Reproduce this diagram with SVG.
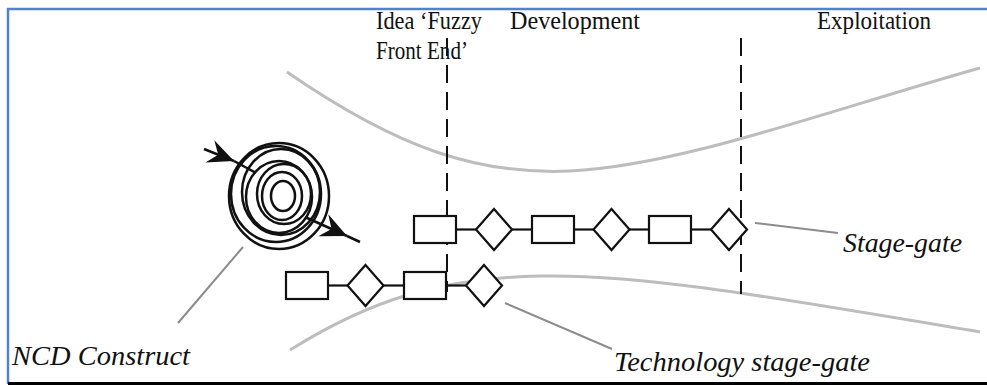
<svg xmlns="http://www.w3.org/2000/svg" width="987" height="385" viewBox="0 0 987 385">
<style>
.hdr{font-family:"Liberation Serif","Times New Roman",serif;font-size:25px;fill:#111}
.lbl{font-family:"Liberation Serif","Times New Roman",serif;font-size:28px;font-style:italic;fill:#111}
.band{fill:none;stroke:#bdbdbd;stroke-width:3}
.lead{fill:none;stroke:#8c8c8c;stroke-width:2}
.dash{stroke:#111;stroke-width:2;stroke-dasharray:18 9}
.sg{fill:#fff;stroke:#111;stroke-width:2.2}
.conn{stroke:#111;stroke-width:2.2}
.ring{fill:none;stroke:#111;stroke-width:2.5}
</style>
<defs>
<marker id="barb" markerUnits="userSpaceOnUse" markerWidth="30" markerHeight="26" refX="27" refY="13" orient="auto">
<path d="M27,13 L1,1 L10,13 L1,25 Z" fill="#111"/>
</marker>
</defs>
<rect x="0" y="0" width="987" height="385" fill="#fff"/>
<g id="frame">
<line x1="8" y1="8" x2="8" y2="384" stroke="#4f82cf" stroke-width="2.5"/>
<line x1="7" y1="9" x2="987" y2="9" stroke="#4f82cf" stroke-width="2.5"/>
<rect x="8" y="382" width="979" height="3" fill="#000"/>
</g>
<g id="headers">
<text class="hdr" x="376" y="29" textLength="106" lengthAdjust="spacingAndGlyphs">Idea ‘Fuzzy</text>
<text class="hdr" x="376" y="59" textLength="92" lengthAdjust="spacingAndGlyphs">Front End’</text>
<text class="hdr" x="510" y="29" textLength="130" lengthAdjust="spacingAndGlyphs">Development</text>
<text class="hdr" x="817" y="29" textLength="114" lengthAdjust="spacingAndGlyphs">Exploitation</text>
</g>
<g id="bands">
<path class="band" d="M287,72 C400,150 480,175 570,171 C680,166 830,110 980,68"/>
<path class="band" d="M290,350 C370,300 440,278 540,276 C640,274 760,295 980,332"/>
</g>
<g id="phase-lines">
<line class="dash" x1="447" y1="38" x2="447" y2="292"/>
<line class="dash" x1="741" y1="38" x2="741" y2="294"/>
</g>
<g id="connectors">
<line class="conn" x1="456" y1="229.5" x2="476" y2="229.5"/>
<line class="conn" x1="512" y1="229.5" x2="532" y2="229.5"/>
<line class="conn" x1="574" y1="229.5" x2="594" y2="229.5"/>
<line class="conn" x1="629" y1="229.5" x2="649" y2="229.5"/>
<line class="conn" x1="691" y1="229.5" x2="711" y2="229.5"/>
<line class="conn" x1="328" y1="285.5" x2="348" y2="285.5"/>
<line class="conn" x1="383" y1="285.5" x2="404" y2="285.5"/>
<line class="conn" x1="446" y1="285.5" x2="466" y2="285.5"/>
<line class="lead" x1="755" y1="223" x2="838" y2="233"/>
<line class="lead" x1="505" y1="303" x2="612" y2="349"/>
<line class="lead" x1="243" y1="247" x2="178" y2="323"/>
</g>
<g id="stage-gate-row">
<rect class="sg" x="414" y="216" width="42" height="27"/>
<polygon class="sg" points="494,209 512,229.5 494,250 476,229.5"/>
<rect class="sg" x="532" y="216" width="42" height="27"/>
<polygon class="sg" points="611.5,209 629.5,229.5 611.5,250 593.5,229.5"/>
<rect class="sg" x="649" y="216" width="42" height="27"/>
<polygon class="sg" points="729,209 747,229.5 729,250 711,229.5"/>
</g>
<g id="technology-row">
<rect class="sg" x="286" y="272" width="42" height="27"/>
<polygon class="sg" points="365.5,265 383.5,285.5 365.5,306 347.5,285.5"/>
<rect class="sg" x="404" y="272" width="42" height="27"/>
<polygon class="sg" points="484,265 502,285.5 484,306 466,285.5"/>
</g>
<g id="ncd-construct">
<ellipse class="ring" cx="279" cy="196" rx="50" ry="53"/>
<ellipse class="ring" cx="276" cy="194" rx="45" ry="48"/>
<ellipse class="ring" cx="281" cy="192" rx="39" ry="43"/>
<ellipse class="ring" cx="279" cy="197" rx="33" ry="36"/>
<ellipse class="ring" cx="284" cy="194" rx="27" ry="30"/>
<ellipse class="ring" cx="282" cy="196" rx="20" ry="24"/>
<ellipse class="ring" cx="283" cy="196" rx="12" ry="15"/>
<line class="ring" x1="204" y1="149" x2="234" y2="161" marker-end="url(#barb)"/>
<line class="ring" x1="234" y1="161" x2="256" y2="173"/>
<line class="ring" x1="305" y1="217" x2="347" y2="236" marker-end="url(#barb)"/>
<line class="ring" x1="347" y1="236" x2="360" y2="242"/>
</g>
<g id="labels">
<text class="lbl" x="843" y="252" textLength="119" lengthAdjust="spacingAndGlyphs">Stage-gate</text>
<text class="lbl" x="12" y="365" textLength="178" lengthAdjust="spacingAndGlyphs">NCD Construct</text>
<text class="lbl" x="614" y="371" textLength="256" lengthAdjust="spacingAndGlyphs">Technology stage-gate</text>
</g>
</svg>
